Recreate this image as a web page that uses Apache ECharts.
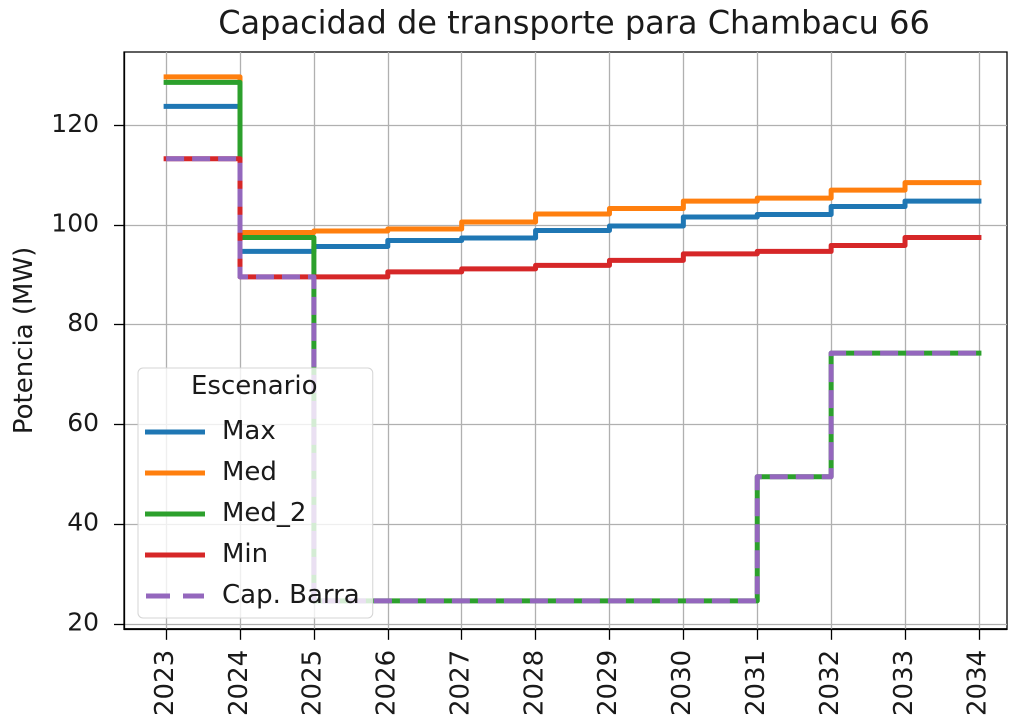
<!DOCTYPE html>
<html>
<head>
<meta charset="utf-8">
<script>
  // zrender 在加载时读取 dpr，用它算折线的最小线段阈值；调高后小台阶（<2px）不会被合并
  Object.defineProperty(window, 'devicePixelRatio', { get: () => 2, configurable: true });
</script>
<script src="https://cdn.jsdelivr.net/npm/echarts@6/dist/echarts.min.js"></script>
<style>
  html, body { margin: 0; padding: 0; background: #fff; }
  #chart { width: 1010px; height: 719px; }
</style>
</head>
<body>
<div id="chart"></div>
<script>
// 年份与各情景数据（MW）
const years = [2023, 2024, 2025, 2026, 2027, 2028, 2029, 2030, 2031, 2032, 2033, 2034];
const yTicks = [20, 40, 60, 80, 100, 120];

const maxVals = [123.8, 94.7, 95.7, 96.9, 97.4, 98.9, 99.8, 101.6, 102.1, 103.7, 104.8, 104.8];
const medVals = [129.7, 98.5, 98.8, 99.2, 100.6, 102.2, 103.3, 104.8, 105.4, 107.0, 108.5, 108.5];
const med2Vals = [128.6, 97.5, 24.6, 24.6, 24.6, 24.6, 24.6, 24.6, 49.5, 74.3, 74.3, 74.3];
const minVals = [113.3, 89.6, 89.6, 90.6, 91.2, 91.9, 92.9, 94.2, 94.7, 95.9, 97.5, 97.5];
const capVals = [113.3, 89.6, 24.6, 24.6, 24.6, 24.6, 24.6, 24.6, 49.5, 74.3, 74.3, 74.3];

const FONT = 'DejaVu Sans';
const pairs = (vals) => years.map((y, i) => [y, vals[i]]);

// 图例图标：实线用矩形，虚线用两段
const SOLID_ICON = 'rect';
const DASH_ICON = 'path://M0,0H24V5H0Z M37,0H58V5H37Z';

const chart = echarts.init(document.getElementById('chart'), null, { renderer: 'canvas', devicePixelRatio: 2 });

const stepLine = (name, vals, color, dashed) => ({
  name,
  type: 'line',
  step: 'end',
  data: pairs(vals),
  symbol: 'none',
  showSymbol: false,
  animation: false,
  lineStyle: {
    color,
    width: 5,
    type: dashed ? [18, 8] : 'solid',
    cap: dashed ? 'butt' : 'square',
    join: 'round',
  },
  itemStyle: { color },
});

chart.setOption({
  backgroundColor: '#fff',
  animation: false,
  title: {
    text: 'Capacidad de transporte para Chambacu 66',
    left: 569,
    top: 4,
    textAlign: 'center',
    textStyle: { fontFamily: FONT, fontSize: 32, fontWeight: 'normal', color: '#1a1a1a' },
  },
  grid: {
    left: 124, right: 3, top: 52, bottom: 86,
    show: true,
    borderColor: '#000',
    borderWidth: 1.3,
    backgroundColor: 'transparent',
  },
  legend: {
    orient: 'vertical',
    left: 138,
    top: 368,
    padding: [51, 13, 9, 7],
    itemWidth: 60,
    itemHeight: 5,
    itemGap: 15,
    backgroundColor: 'rgba(255,255,255,0.8)',
    borderColor: '#d5d5d5',
    borderWidth: 1,
    borderRadius: 5,
    textStyle: {
      fontFamily: FONT, fontSize: 26, color: '#1a1a1a',
      lineHeight: 26, padding: [0, 0, 0, 12],
    },
    data: [
      { name: 'Max', icon: SOLID_ICON },
      { name: 'Med', icon: SOLID_ICON },
      { name: 'Med_2', icon: SOLID_ICON },
      { name: 'Min', icon: SOLID_ICON },
      { name: 'Cap. Barra', icon: DASH_ICON },
    ],
  },
  graphic: [{
    type: 'text',
    left: 191,
    top: 374,
    z: 100,
    style: { text: 'Escenario', fontFamily: FONT, fontSize: 26, fill: '#1a1a1a' },
  }],
  xAxis: {
    type: 'value',
    min: 2022.43,
    max: 2034.38,
    axisLine: { lineStyle: { color: '#000', width: 1.3 } },
    axisTick: { show: true, length: 11, lineStyle: { color: '#000', width: 1.3 }, customValues: years },
    axisLabel: {
      customValues: years,
      rotate: 90,
      margin: 21,
      fontFamily: FONT,
      fontSize: 26,
      color: '#1a1a1a',
      formatter: (v) => String(v),
    },
    splitLine: { show: true, lineStyle: { color: '#b0b0b0', width: 1.3 } },
  },
  yAxis: {
    type: 'value',
    min: 19,
    max: 134.7,
    name: 'Potencia (MW)',
    nameLocation: 'middle',
    nameRotate: 90,
    nameGap: 86,
    nameTextStyle: { fontFamily: FONT, fontSize: 26, color: '#1a1a1a' },
    axisLine: { show: true, lineStyle: { color: '#000', width: 1.3 } },
    axisTick: { show: true, length: 10, lineStyle: { color: '#000', width: 1.3 }, customValues: yTicks },
    axisLabel: {
      customValues: yTicks,
      margin: 25,
      fontFamily: FONT,
      fontSize: 25,
      color: '#1a1a1a',
    },
    splitLine: { show: true, lineStyle: { color: '#b0b0b0', width: 1.3 } },
  },
  series: [
    stepLine('Max', maxVals, '#1f77b4'),
    stepLine('Med', medVals, '#ff7f0e'),
    stepLine('Med_2', med2Vals, '#2ca02c'),
    stepLine('Min', minVals, '#d62728'),
    stepLine('Cap. Barra', capVals, '#9467bd', true),
  ],
});
</script>
</body>
</html>
